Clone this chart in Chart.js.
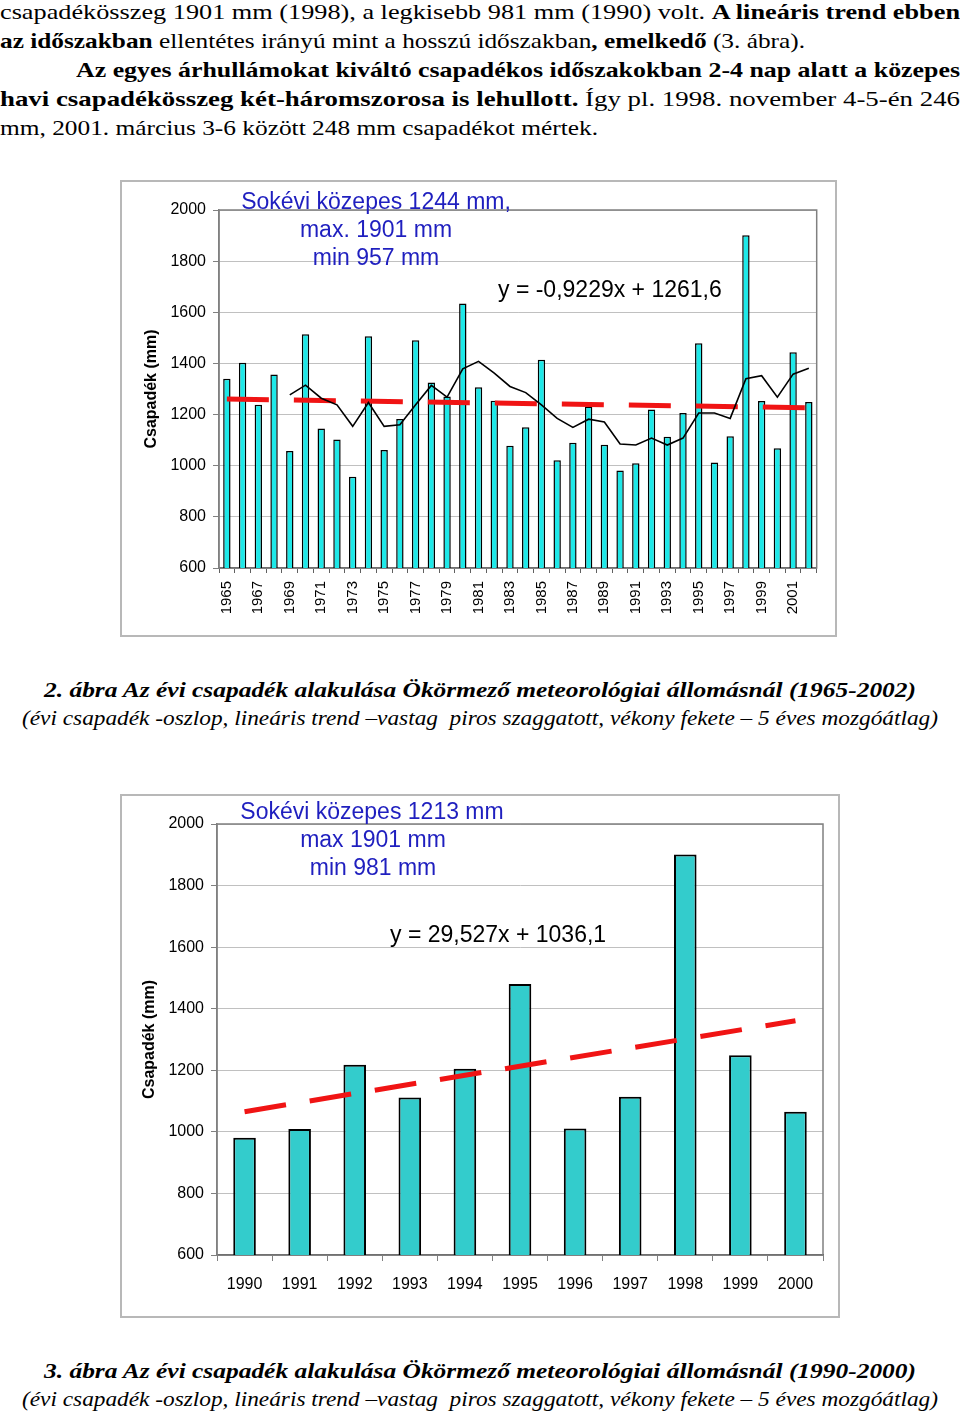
<!DOCTYPE html>
<html lang="hu">
<head>
<meta charset="utf-8">
<title>Ökörmező – évi csapadék</title>
<script src="https://cdn.jsdelivr.net/npm/chart.js@4.4.1/dist/chart.umd.min.js"></script>
<style>
    html, body { margin: 0; padding: 0; background: #fff; }
    body { width: 960px; height: 1416px; position: relative; overflow: hidden; }
    .txt { position: absolute; white-space: nowrap; font-family: 'Liberation Serif', 'Times New Roman', serif;
           font-size: 22px; line-height: 29px; color: #000; transform-origin: 0 0; }
    .cap1 { font-weight: bold; font-style: italic; font-size: 22px; line-height: 28px; }
    .cap2 { font-style: italic; font-size: 20px; line-height: 28px; }
    .box { position: absolute; border: 2px solid #b8b8b8; background: #fff; }
    .box canvas { position: absolute; left: 0; top: 0; }
    .note { position: absolute; font-family: 'Liberation Sans', Arial, sans-serif; font-size: 23px;
            line-height: 26px; white-space: nowrap; color: #000; }
    .blue { color: #1f1fbf; text-align: center; width: 300px; }
</style>
</head>
<body>

<!-- Text above the charts -->
<div class="txt" style="left:0;top:-3px" data-w="960">csapadékösszeg 1901 mm (1998), a legkisebb 981 mm (1990) volt. <b>A lineáris trend ebben</b></div>
<div class="txt" style="left:0;top:26px" data-w="805"><b>az időszakban</b> ellentétes irányú mint a hosszú időszakban<b>, emelkedő</b> (3. ábra).</div>
<div class="txt" style="left:76px;top:55px" data-w="884"><b>Az egyes árhullámokat kiváltó csapadékos időszakokban 2-4 nap alatt a közepes</b></div>
<div class="txt" style="left:0;top:84px" data-w="960"><b>havi csapadékösszeg két-háromszorosa is lehullott.</b> Így pl. 1998. november 4-5-én 246</div>
<div class="txt" style="left:0;top:113px" data-w="598">mm, 2001. március 3-6 között 248 mm csapadékot mértek.</div>

<!-- Chart 1 -->
<div class="box" style="left:120px;top:180px;width:713px;height:453px">
    <canvas id="chart-long" width="713" height="453"></canvas>
</div>
<div class="note blue" style="left:226px;top:188px">Sokévi közepes 1244 mm,</div>
<div class="note blue" style="left:226px;top:216px">max. 1901 mm</div>
<div class="note blue" style="left:226px;top:244px">min 957 mm</div>
<div class="note" style="left:498px;top:276px">y = -0,9229x + 1261,6</div>

<div class="txt cap1" style="left:44px;top:676px" data-w="872">2. ábra Az évi csapadék alakulása Ökörmező meteorológiai állomásnál (1965-2002)</div>
<div class="txt cap2" style="left:22px;top:704px" data-w="916">(évi csapadék -oszlop, lineáris trend –vastag&nbsp; piros szaggatott, vékony fekete – 5 éves mozgóátlag)</div>

<!-- Chart 2 -->
<div class="box" style="left:120px;top:794px;width:716px;height:520px">
    <canvas id="chart-short" width="716" height="520"></canvas>
</div>
<div class="note blue" style="left:222px;top:798px">Sokévi közepes 1213 mm</div>
<div class="note blue" style="left:223px;top:826px">max 1901 mm</div>
<div class="note blue" style="left:223px;top:854px">min 981 mm</div>
<div class="note" style="left:390px;top:921px">y = 29,527x + 1036,1</div>

<div class="txt cap1" style="left:44px;top:1357px" data-w="872">3. ábra Az évi csapadék alakulása Ökörmező meteorológiai állomásnál (1990-2000)</div>
<div class="txt cap2" style="left:22px;top:1385px" data-w="916">(évi csapadék -oszlop, lineáris trend –vastag&nbsp; piros szaggatott, vékony fekete – 5 éves mozgóátlag)</div>

<script>
    // 1965-2002 annual precipitation (mm)
    const years1 = ['1965', '1966', '1967', '1968', '1969', '1970', '1971', '1972', '1973', '1974',
        '1975', '1976', '1977', '1978', '1979', '1980', '1981', '1982', '1983', '1984',
        '1985', '1986', '1987', '1988', '1989', '1990', '1991', '1992', '1993', '1994',
        '1995', '1996', '1997', '1998', '1999', '2000', '2001', '2002'];
    const rain1 = [1340, 1403, 1238, 1357, 1058, 1514, 1146, 1103, 957, 1506,
        1061, 1183, 1491, 1325, 1271, 1634, 1307, 1254, 1078, 1150,
        1414, 1021, 1090, 1232, 1082, 981, 1010, 1220, 1113, 1206,
        1479, 1013, 1115, 1901, 1253, 1068, 1444, 1249];
    // 5 year moving average
    const avg1 = [null, null, null, null, 1277, 1315, 1264, 1238, 1154, 1247,
        1154, 1160, 1238, 1314, 1268, 1379, 1408, 1362, 1310, 1286,
        1238, 1185, 1150, 1182, 1171, 1085, 1081, 1108, 1081, 1108,
        1206, 1206, 1185, 1340, 1352, 1268, 1358, 1381];
    // linear trend at first and last year
    const trend1Ends = [1260.7, 1226.5];

    // 1990-2000
    const years2 = ['1990', '1991', '1992', '1993', '1994', '1995', '1996', '1997', '1998', '1999', '2000'];
    const rain2 = [981, 1009, 1218, 1112, 1205, 1480, 1011, 1114, 1901, 1249, 1065];
    const trend2Ends = [1065.6, 1360.9];

    const yTicks = [600, 800, 1000, 1200, 1400, 1600, 1800, 2000];

    function endsOnly(labels, ends) {
        return labels.map((l, i) => i === 0 ? ends[0] : (i === labels.length - 1 ? ends[1] : null));
    }

    // fit the text lines to the widths of the scanned page
    document.querySelectorAll('[data-w]').forEach(el => {
        const w = el.getBoundingClientRect().width;
        el.style.transform = 'scaleX(' + (+el.dataset.w / w) + ')';
    });

    Chart.defaults.font.family = "'Liberation Sans', Arial, sans-serif";
    Chart.defaults.color = '#000';

    const plotFrame = {
        id: 'plotFrame',
        beforeDatasetsDraw(chart) {
            const { ctx, chartArea: a } = chart;
            ctx.save();
            ctx.strokeStyle = '#808080';
            ctx.lineWidth = 1.5;
            ctx.strokeRect(a.left, a.top, a.right - a.left, a.bottom - a.top);
            ctx.restore();
        }
    };

    function yScale(width, titlePad) {
        return {
            min: 600,
            max: 2000,
            afterBuildTicks(s) { s.ticks = yTicks.map(v => ({ value: v })); },
            ticks: { padding: 7, font: { size: 16 }, callback: v => String(v) },
            grid: { color: '#c0c0c0', tickColor: '#808080', tickLength: 6 },
            border: { color: '#808080', width: 1.5 },
            title: {
                display: true, text: 'Csapadék (mm)', color: '#000',
                font: { size: 16, weight: 'bold' }, padding: { top: titlePad, bottom: 0 }
            },
            afterFit(s) { s.width = width; }
        };
    }

    new Chart(document.getElementById('chart-long'), {
        type: 'bar',
        data: {
            labels: years1,
            datasets: [
                {
                    type: 'line', data: avg1, borderColor: '#000', borderWidth: 1.6,
                    pointRadius: 0, order: 0
                },
                {
                    type: 'line', data: endsOnly(years1, trend1Ends), borderColor: '#f01414', borderWidth: 5,
                    borderDash: [42, 25], borderCapStyle: 'butt', pointRadius: 0, spanGaps: true, order: 1
                },
                {
                    data: rain1, backgroundColor: '#1ee8e8', borderColor: '#000', borderWidth: 1.5,
                    barPercentage: 0.47, categoryPercentage: 1, order: 2
                }
            ]
        },
        options: {
            responsive: false,
            animation: false,
            layout: { padding: { top: 28, right: 13, bottom: 0, left: 0 } },
            plugins: { legend: { display: false }, tooltip: { enabled: false } },
            scales: {
                x: {
                    offset: true,
                    grid: { offset: true, drawOnChartArea: false, tickLength: 5, tickColor: '#606060' },
                    border: { color: '#404040', width: 1.5 },
                    ticks: {
                        autoSkip: false, minRotation: 90, maxRotation: 90, padding: 8,
                        font: { size: 15 },
                        callback(v, i) { return i % 2 === 0 ? this.getLabelForValue(v) : ''; }
                    },
                    afterFit(s) { s.height = 67; }
                },
                y: yScale(97, 20)
            }
        },
        plugins: [plotFrame]
    });

    new Chart(document.getElementById('chart-short'), {
        type: 'bar',
        data: {
            labels: years2,
            datasets: [
                {
                    type: 'line', data: endsOnly(years2, trend2Ends), borderColor: '#f01414', borderWidth: 5,
                    borderDash: [42, 24], borderCapStyle: 'butt', pointRadius: 0, spanGaps: true, order: 0
                },
                {
                    data: rain2, backgroundColor: '#33cccc', borderColor: '#000', borderWidth: 2,
                    barPercentage: 0.41, categoryPercentage: 1, order: 1
                }
            ]
        },
        options: {
            responsive: false,
            animation: false,
            layout: { padding: { top: 28, right: 15, bottom: 0, left: 0 } },
            plugins: { legend: { display: false }, tooltip: { enabled: false } },
            scales: {
                x: {
                    offset: true,
                    grid: { offset: true, drawOnChartArea: false, tickLength: 6, tickColor: '#808080' },
                    border: { color: '#404040', width: 1.5 },
                    ticks: { autoSkip: false, maxRotation: 0, padding: 14, font: { size: 16 } },
                    afterFit(s) { s.height = 61; }
                },
                y: yScale(95, 18)
            }
        },
        plugins: [plotFrame]
    });
</script>
</body>
</html>
